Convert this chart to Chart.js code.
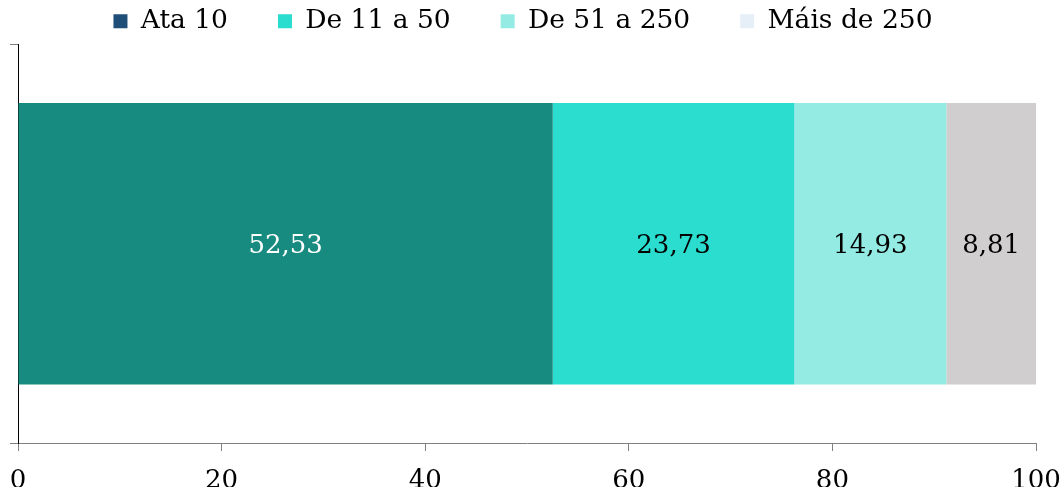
<!DOCTYPE html>
<html>
<head>
<meta charset="utf-8">
<script src="https://cdn.jsdelivr.net/npm/chart.js@4/dist/chart.umd.min.js"></script>
<style>
  html, body { margin: 0; padding: 0; background: #ffffff; }
  #wrap { width: 1063px; height: 487px; }
</style>
</head>
<body>
<div id="wrap"><canvas id="c" width="1063" height="487"></canvas></div>
<script>
const categories = [''];
const seriesNames = ['Ata 10', 'De 11 a 50', 'De 51 a 250', 'Máis de 250'];
const seriesValues = [[52.53], [23.73], [14.93], [8.81]];
const barColors = ['#178B7F', '#2ADDCF', '#93EBE3', '#D0CECF'];
const legendColors = ['#1F4E79', '#2ADDCF', '#93EBE3', '#E6EEF8'];
const labelColors = ['#ffffff', '#000000', '#000000', '#000000'];
const xTicks = [0, 20, 40, 60, 80, 100];

const FONT = '"DejaVu Serif", "Liberation Serif", serif';

// Writes each segment's value (decimal comma) in the middle of its bar
const valueLabels = {
  id: 'valueLabels',
  afterDatasetsDraw(chart) {
    const ctx = chart.ctx;
    ctx.save();
    ctx.font = '26px ' + FONT;
    ctx.textAlign = 'center';
    ctx.textBaseline = 'middle';
    chart.data.datasets.forEach((ds, i) => {
      const meta = chart.getDatasetMeta(i);
      meta.data.forEach((bar, j) => {
        const v = ds.data[j];
        const cx = (bar.x + bar.base) / 2;
        ctx.fillStyle = labelColors[i];
        ctx.fillText(v.toFixed(2).replace('.', ','), cx, bar.y + 2);
      });
    });
    ctx.restore();
  }
};

const datasets = seriesNames.map((name, i) => ({
  label: name,
  data: seriesValues[i],
  backgroundColor: barColors[i],
  borderWidth: 0,
  barPercentage: 0.707,
  categoryPercentage: 1.0
}));

new Chart(document.getElementById('c'), {
  type: 'bar',
  data: { labels: categories, datasets },
  plugins: [valueLabels],
  options: {
    indexAxis: 'y',
    responsive: false,
    animation: false,
    layout: { padding: { left: 10, right: 27, top: -42, bottom: 0 } },
    plugins: {
      tooltip: { enabled: false },
      legend: {
        position: 'top',
        labels: {
          font: { family: FONT, size: 26.5, lineHeight: 1.4 },
          color: '#000000',
          boxWidth: 14,
          boxHeight: 14,
          padding: 50,
          generateLabels(chart) {
            return chart.data.datasets.map((ds, i) => ({
              text: ds.label,
              fillStyle: legendColors[i],
              strokeStyle: legendColors[i],
              lineWidth: 0,
              datasetIndex: i,
              hidden: false
            }));
          }
        }
      }
    },
    scales: {
      x: {
        stacked: true,
        min: 0,
        max: 100,
        afterBuildTicks(axis) { axis.ticks = xTicks.map(v => ({ value: v })); },
        afterFit(scale) {
          scale.height = 44;
          scale.paddingRight = 0;
          scale.paddingLeft = 0;
        },
        grid: {
          drawOnChartArea: false,
          drawTicks: true,
          tickLength: 8,
          color: '#808080',
          lineWidth: 1
        },
        border: { display: true, color: '#808080', width: 1 },
        ticks: {
          font: { family: FONT, size: 26, lineHeight: 1.2 },
          color: '#000000',
          padding: 15,
          maxRotation: 0
        }
      },
      y: {
        stacked: true,
        afterFit(scale) { scale.width = 8; },
        grid: {
          offset: true,
          drawOnChartArea: false,
          drawTicks: true,
          tickLength: 8,
          color: '#808080'
        },
        border: { display: true, color: '#000000', width: 1 },
        ticks: { display: true, font: { size: 1 }, padding: 0, callback: () => '' }
      }
    }
  }
});
</script>
</body>
</html>
